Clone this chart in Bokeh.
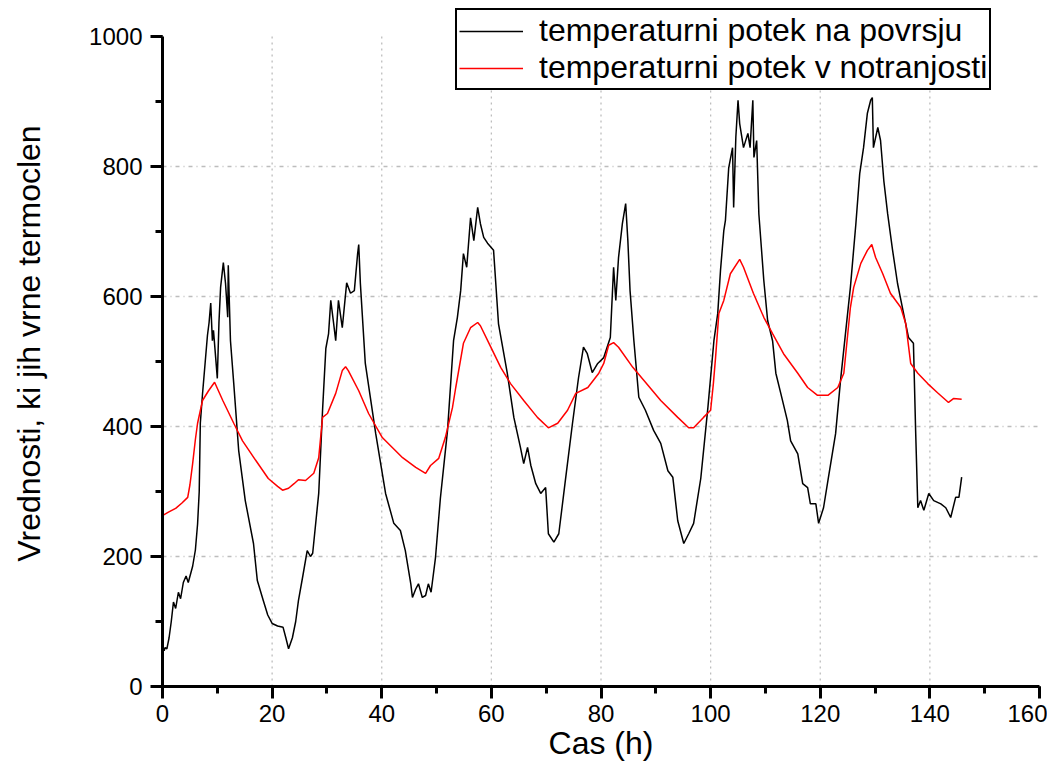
from bokeh.plotting import figure
from bokeh.models import Range1d, SingleIntervalTicker, FixedTicker, Legend, LegendItem
from bokeh.embed import file_html
from bokeh.resources import INLINE

surface_t = [0, 0.3, 0.5, 0.8, 1.2, 1.6, 2.0, 2.4, 2.9, 3.3, 3.8, 4.3, 4.7, 5.5, 6.0, 6.4, 6.7, 6.9, 7.3, 7.8,
             8.2, 8.5, 8.8, 9.1, 9.3, 9.7, 10.0, 10.3, 10.6, 11.1, 11.5, 11.9, 12.0, 12.4, 13.0, 13.9, 15.1, 16.6, 17.3, 18.4,
             19.2, 20.0, 21.0, 22.0, 22.5, 23.0, 23.7, 24.3, 24.8, 25.6, 26.4, 27.0, 27.4, 28.5, 29.2, 29.8, 30.3, 30.7, 31.2, 31.6,
             32.1, 32.8, 33.6, 34.3, 35.0, 35.6, 35.8, 36.1, 37.0, 38.9, 40.7, 42.2, 43.4, 44.3, 45.3, 45.6, 46.2, 46.7, 47.4, 48.0,
             48.5, 49.0, 49.8, 50.7, 52.0, 53.1, 53.8, 54.4, 54.9, 55.5, 56.2, 56.8, 57.5, 58.0, 58.6, 59.3, 60.4, 61.3, 62.9, 64.1,
             65.3, 65.9, 66.6, 67.2, 68.1, 69.0, 69.9, 70.4, 71.4, 72.3, 73.5, 74.8, 75.9, 76.8, 77.5, 78.4, 79.4, 80.5, 81.7, 82.3,
             82.7, 83.2, 83.9, 84.5, 84.9, 85.3, 86.0, 86.9, 88.1, 89.6, 90.9, 92.2, 93.1, 94.0, 95.1, 96.0, 96.9, 98.2, 99.5, 100.6,
             101.3, 101.8, 102.4, 102.7, 103.3, 104.0, 104.2, 104.6, 105.0, 105.3, 106.0, 106.8, 107.2, 107.7, 107.9, 108.4, 108.8, 109.7, 110.4, 111.3,
             111.9, 112.8, 114.0, 114.6, 115.9, 116.8, 117.7, 118.2, 119.2, 119.7, 120.6, 121.5, 122.8, 123.7, 124.6, 125.5, 126.5, 127.2, 127.9, 128.6,
             129.2, 129.5, 129.7, 130.5, 131.0, 131.6, 132.3, 133.2, 134.1, 135.2, 136.1, 137.0, 137.4, 137.8, 138.3, 138.9, 139.8, 140.7, 142.0, 142.9,
             143.8, 144.7, 145.3, 145.8]
surface_v = [65, 55, 60, 58, 75, 100, 130, 120, 145, 135, 160, 170, 160, 185, 210, 250, 300, 405, 450, 500,
             540, 560, 590, 532, 548, 506, 474, 560, 614, 652, 620, 568, 648, 532, 466, 363, 286, 220, 163, 132,
             110, 97, 93, 91, 75, 58, 75, 100, 132, 170, 209, 200, 205, 297, 425, 520, 543, 594, 560, 532,
             594, 552, 621, 605, 609, 666, 680, 620, 497, 389, 297, 251, 240, 209, 158, 137, 150, 158, 137, 140,
             158, 145, 198, 290, 394, 532, 568, 609, 666, 645, 721, 686, 737, 712, 691, 682, 671, 558, 482, 414,
             368, 343, 368, 340, 312, 297, 306, 235, 222, 235, 317, 405, 475, 522, 512, 483, 497, 506, 537, 645,
             594, 660, 712, 743, 686, 609, 532, 445, 425, 394, 374, 332, 322, 255, 220, 235, 251, 320, 429, 532,
             574, 640, 701, 717, 798, 829, 737, 845, 902, 866, 829, 851, 829, 902, 814, 840, 727, 625, 563, 532,
             482, 451, 409, 378, 358, 312, 306, 281, 281, 251, 275, 322, 389, 471, 543, 614, 712, 789, 829, 882,
             902, 906, 829, 860, 840, 778, 727, 671, 620, 574, 537, 528, 394, 275, 286, 271, 297, 286, 281, 275,
             260, 291, 291, 322]

inner_t = [0, 1.0, 2.4, 3.5, 4.6, 5.0, 5.5, 6.0, 6.4, 7.3, 8.4, 9.5, 11.0, 13.0, 14.6, 17.0, 19.3, 21.0, 21.9, 23.0,
           24.0, 24.8, 26.1, 27.6, 28.5, 29.2, 30.1, 31.6, 32.8, 33.4, 33.9, 35.8, 37.6, 40.1, 43.8, 46.2, 48.0, 48.9, 50.4, 51.6,
           52.9, 53.5, 54.9, 56.2, 57.5, 58.0, 59.9, 61.7, 63.5, 65.9, 68.4, 70.4, 72.1, 73.9, 75.4, 77.6, 79.6, 80.5, 81.4, 82.3,
           83.2, 85.8, 87.8, 90.9, 94.0, 96.0, 96.9, 98.7, 100.0, 100.5, 100.9, 101.5, 102.4, 103.6, 105.3, 106.0, 107.8, 109.7, 111.3, 113.3,
           115.9, 117.7, 119.5, 121.4, 123.2, 124.3, 125.5, 126.1, 127.4, 128.6, 129.4, 130.1, 131.4, 132.8, 134.7, 135.6, 136.5, 137.8, 139.6, 141.4,
           143.4, 144.3, 145.8]
inner_v = [263, 268, 274, 282, 291, 310, 343, 380, 405, 440, 455, 468, 440, 405, 378, 348, 320, 308, 302, 305,
           312, 318, 317, 328, 352, 414, 420, 451, 486, 492, 486, 455, 420, 383, 352, 337, 328, 340, 351, 383,
           429, 460, 528, 552, 560, 555, 522, 491, 466, 440, 414, 398, 405, 425, 451, 460, 482, 497, 525, 529,
           522, 491, 471, 440, 414, 398, 398, 414, 425, 466, 506, 574, 594, 635, 657, 645, 605, 568, 543, 512,
           482, 460, 448, 448, 460, 482, 583, 614, 651, 671, 680, 660, 635, 605, 583, 558, 497, 482, 466, 452,
           437, 443, 442]

series_labels = ["temperaturni potek na povrsju", "temperaturni potek v notranjosti"]
x_label = "Cas (h)"
y_label = "Vrednosti, ki jih vrne termoclen"
x_grid_ticks = [20, 40, 60, 80, 100, 120, 140]
y_grid_ticks = [200, 400, 600, 800]
y_axis_max = 1000

FONT = "Liberation Sans"

# frame spans 686 px vertically; 1000 units = 650 px, the headroom above 1000 hosts the legend
p = figure(width=1047, height=766, output_backend="svg", toolbar_location=None,
           x_range=Range1d(0, 160), y_range=Range1d(0, 686 / 0.65),
           min_border_left=162, min_border_right=8, min_border_top=0, min_border_bottom=80)
p.outline_line_color = None
p.background_fill_color = "white"
p.border_fill_color = "white"

# grid
p.xgrid.visible = False
p.segment(x0=x_grid_ticks, y0=[0] * len(x_grid_ticks), x1=x_grid_ticks, y1=[y_axis_max] * len(x_grid_ticks),
          line_color="#bdbdbd", line_dash="2 4", line_width=1.3)
p.ygrid.ticker = FixedTicker(ticks=y_grid_ticks)
p.ygrid.grid_line_color = "#bdbdbd"
p.ygrid.grid_line_dash = "4 4 1 4"
p.ygrid.grid_line_width = 1.3

r1 = p.line(surface_t, surface_v, line_color="black", line_width=1.5)
r2 = p.line(inner_t, inner_v, line_color="#ff0000", line_width=1.5)

for ax, interval in ((p.xaxis[0], 20), (p.yaxis[0], 200)):
    ax.ticker = SingleIntervalTicker(interval=interval, num_minor_ticks=2)
    ax.axis_line_width = 3
    ax.axis_line_color = "black"
    ax.major_tick_line_width = 3
    ax.major_tick_line_color = "black"
    ax.major_tick_out = 12
    ax.major_tick_in = 0
    ax.minor_tick_line_width = 3
    ax.minor_tick_line_color = "black"
    ax.minor_tick_out = 7
    ax.minor_tick_in = 0
    ax.major_label_text_font = FONT
    ax.major_label_text_font_size = "24px"
    ax.major_label_text_color = "black"
    ax.axis_label_text_font = FONT
    ax.axis_label_text_font_size = "32px"
    ax.axis_label_text_font_style = "normal"
    ax.axis_label_text_color = "black"

p.yaxis.bounds = (0, y_axis_max)
p.xaxis.axis_label = x_label
p.yaxis.axis_label = y_label
p.xaxis.major_label_standoff = 6
p.xaxis.axis_label_standoff = 0
p.yaxis.major_label_standoff = 8
p.yaxis.axis_label_standoff = 39

legend = Legend(items=[LegendItem(label=series_labels[0], renderers=[r1]),
                       LegendItem(label=series_labels[1], renderers=[r2])],
                location=(293, 596))
legend.label_text_font = FONT
legend.label_text_font_size = "32px"
legend.label_text_color = "black"
legend.glyph_width = 64
legend.glyph_height = 36
legend.label_height = 36
legend.label_standoff = 16
legend.spacing = 0
legend.padding = 2
legend.margin = 0
legend.border_line_color = "black"
legend.border_line_alpha = 1.0
legend.border_line_width = 2
legend.background_fill_color = "white"
legend.background_fill_alpha = 1.0
p.add_layout(legend, "center")

open("out.html", "w").write(file_html(p, INLINE))
